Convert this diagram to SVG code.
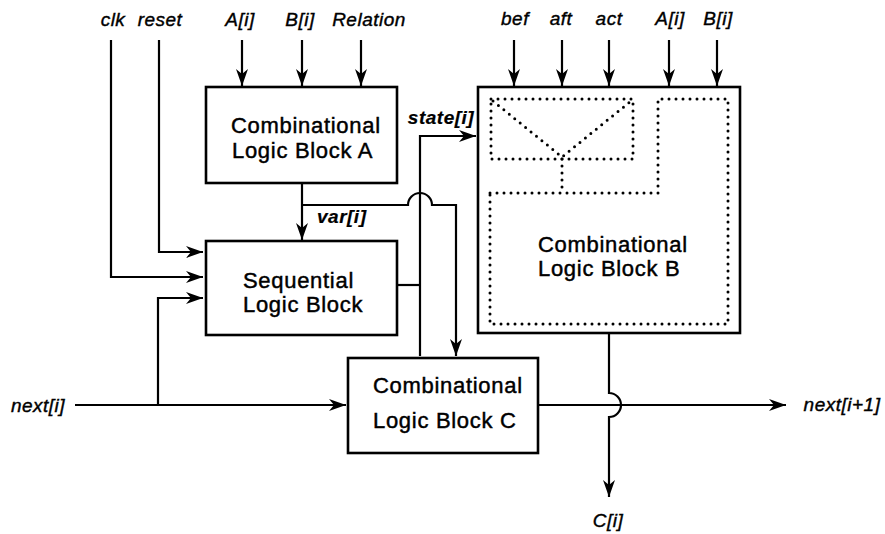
<svg xmlns="http://www.w3.org/2000/svg" width="885" height="534" viewBox="0 0 885 534">
  <defs>
    <marker id="arrow" markerUnits="userSpaceOnUse" markerWidth="20" markerHeight="14" refX="17" refY="7" orient="auto">
      <path d="M0,1 L17,7 L0,13 L5,7 Z" fill="#000"/>
    </marker>
    <style>
      .box { fill: #fff; stroke: #000; stroke-width: 2.6; }
      .wire { fill: none; stroke: #000; stroke-width: 2.2; }
      .arr { marker-end: url(#arrow); }
      .dot { fill: none; stroke: #000; stroke-width: 3; stroke-linecap: round; stroke-dasharray: 0 7; }
      .blk { font-family: "Liberation Sans", Arial, sans-serif; font-size: 22px; letter-spacing: 0.7px; fill: #000; stroke: #000; stroke-width: 0.45; }
      .lbl { font-family: "Liberation Sans", Arial, sans-serif; font-size: 19px; font-style: italic; letter-spacing: 0.5px; fill: #000; stroke: #000; stroke-width: 0.4; }
      .bold { font-weight: bold; stroke-width: 0.2; }
    </style>
  </defs>
  <rect width="885" height="534" fill="#fff"/>

  <!-- wires and arrows -->
  <g id="connectors">
    <!-- top inputs of block A -->
    <line class="wire arr" x1="242" y1="40" x2="242" y2="86"/>
    <line class="wire arr" x1="302" y1="40" x2="302" y2="86"/>
    <line class="wire arr" x1="361" y1="40" x2="361" y2="86"/>
    <!-- top inputs of block B -->
    <line class="wire arr" x1="514" y1="40" x2="514" y2="86"/>
    <line class="wire arr" x1="562" y1="40" x2="562" y2="86"/>
    <line class="wire arr" x1="609" y1="40" x2="609" y2="86"/>
    <line class="wire arr" x1="669" y1="40" x2="669" y2="86"/>
    <line class="wire arr" x1="717" y1="40" x2="717" y2="86"/>
    <!-- clk and reset -->
    <polyline class="wire arr" points="111,40 111,277 203,277"/>
    <polyline class="wire arr" points="159,40 159,252 203,252"/>
    <!-- next[i] -->
    <line class="wire arr" x1="75" y1="405" x2="346" y2="405"/>
    <polyline class="wire arr" points="158,405 158,298 203,298"/>
    <!-- var[i] -->
    <line class="wire arr" x1="302" y1="183" x2="302" y2="240"/>
    <path class="wire arr" d="M302,205 L408,205 A12,12 0 0 1 432,205 L456,205 L456,356"/>
    <!-- sequential output / state[i] -->
    <line class="wire" x1="397" y1="285" x2="420" y2="285"/>
    <polyline class="wire arr" points="420,356 420,136 476,136"/>
    <!-- block C output -->
    <line class="wire arr" x1="538" y1="405" x2="786" y2="405"/>
    <!-- block B output -->
    <path class="wire arr" d="M609,333 L609,393 A12,12 0 0 1 609,417 L609,497"/>
  </g>

  <g id="block-a">
    <rect class="box" x="206" y="87" width="191" height="96"/>
    <text class="blk" x="231" y="133">Combinational</text>
    <text class="blk" x="232" y="158">Logic Block A</text>
  </g>

  <g id="block-seq">
    <rect class="box" x="206" y="241" width="191" height="94"/>
    <text class="blk" x="243" y="288">Sequential</text>
    <text class="blk" x="243" y="312">Logic Block</text>
  </g>

  <g id="block-b">
    <rect class="box" x="478" y="87" width="262" height="246"/>
    <rect class="dot" x="491" y="99" width="142" height="60"/>
    <polyline class="dot" points="493,101 562,157 631,101"/>
    <line class="dot" x1="562" y1="159" x2="562" y2="193"/>
    <polygon class="dot" points="490,193 658,193 658,99 728,99 728,324 490,324"/>
    <text class="blk" x="538" y="252">Combinational</text>
    <text class="blk" x="538" y="276">Logic Block B</text>
  </g>

  <g id="block-c">
    <rect class="box" x="348" y="358" width="190" height="95"/>
    <text class="blk" x="373" y="393">Combinational</text>
    <text class="blk" x="373" y="428">Logic Block C</text>
  </g>

  <g id="labels">
    <text class="lbl" x="113" y="26" text-anchor="middle">clk</text>
    <text class="lbl" x="160" y="26" text-anchor="middle">reset</text>
    <text class="lbl" x="240" y="26" text-anchor="middle">A[i]</text>
    <text class="lbl" x="300" y="26" text-anchor="middle">B[i]</text>
    <text class="lbl" x="369" y="26" text-anchor="middle">Relation</text>
    <text class="lbl" x="515" y="25" text-anchor="middle">bef</text>
    <text class="lbl" x="561" y="25" text-anchor="middle">aft</text>
    <text class="lbl" x="609" y="25" text-anchor="middle">act</text>
    <text class="lbl" x="670" y="25" text-anchor="middle">A[i]</text>
    <text class="lbl" x="718" y="25" text-anchor="middle">B[i]</text>
    <text class="lbl bold" x="441" y="124" text-anchor="middle">state[i]</text>
    <text class="lbl bold" x="317" y="223">var[i]</text>
    <text class="lbl" x="38" y="412" text-anchor="middle">next[i]</text>
    <text class="lbl" x="842" y="411" text-anchor="middle">next[i+1]</text>
    <text class="lbl" x="608" y="527" text-anchor="middle">C[i]</text>
  </g>
</svg>
